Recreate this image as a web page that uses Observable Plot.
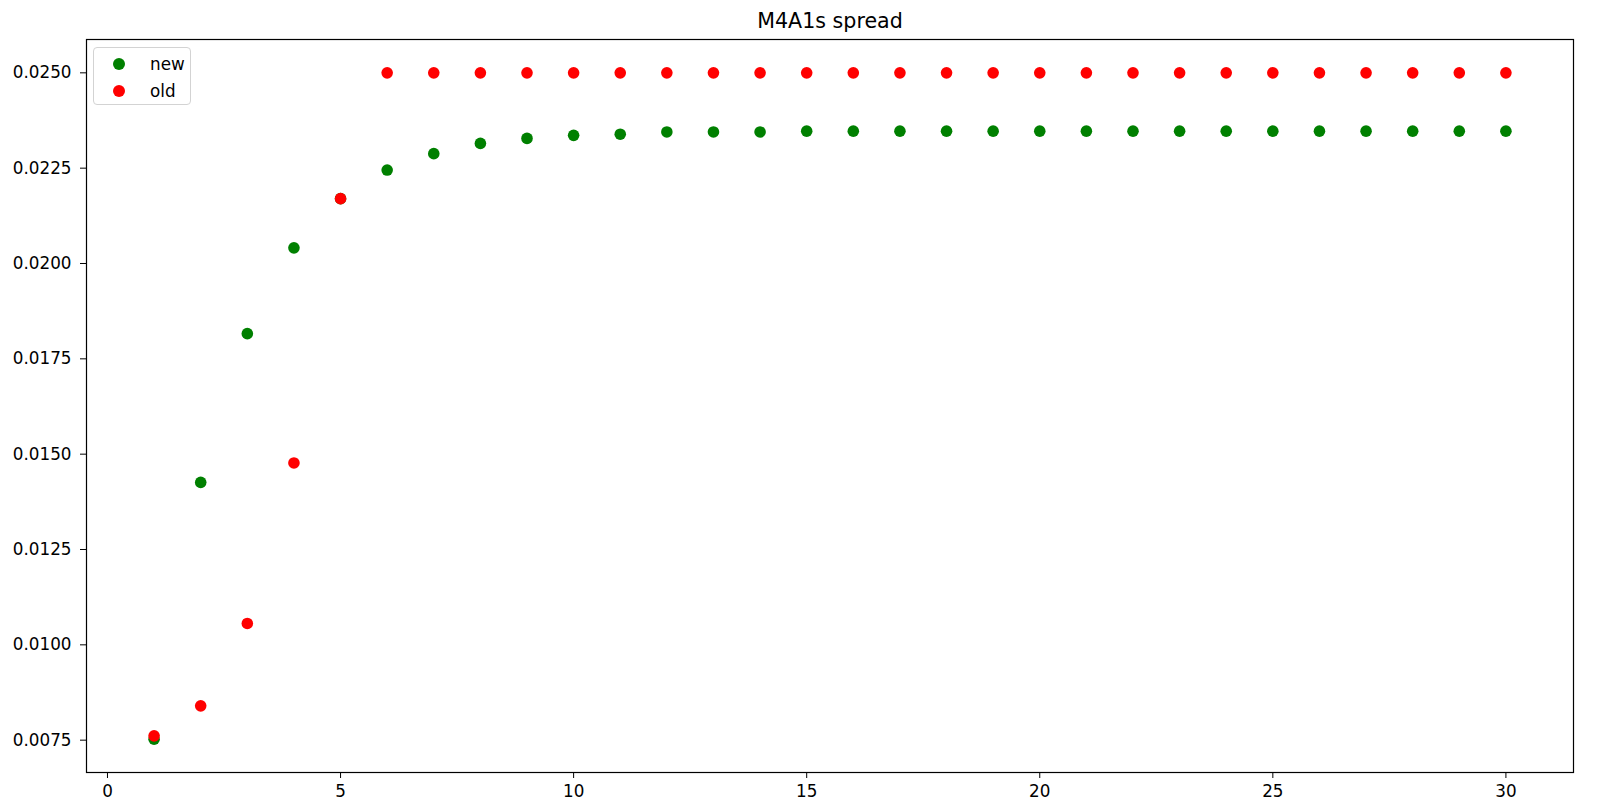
<!DOCTYPE html>
<html>
<head>
<meta charset="utf-8">
<script src="https://cdn.jsdelivr.net/npm/d3@7"></script>
<script src="https://cdn.jsdelivr.net/npm/@observablehq/plot@0.6"></script>
<style>
  html, body { margin: 0; padding: 0; background: white; }
  #wrap { position: relative; width: 1607px; height: 809px; font-family: "DejaVu Sans", sans-serif; }
  #legend { position: absolute; left: 93px; top: 47px; width: 98px; height: 58px; box-sizing: border-box;
    border: 1px solid #d3d3d3; border-radius: 4px; background: rgba(255,255,255,0.8); font-size: 16.8px; }
  .item { position: absolute; left: 0; height: 20px; line-height: 20px; }
  .sw { position: absolute; left: 19px; top: 4px; width: 12px; height: 12px; border-radius: 50%; }
  .lbl { position: absolute; left: 56px; top: 0; white-space: nowrap; color: black; }
</style>
</head>
<body>
<div id="wrap"></div>
<script>
const title = "M4A1s spread";
const steps = [1,2,3,4,5,6,7,8,9,10,11,12,13,14,15,16,17,18,19,20,21,22,23,24,25,26,27,28,29,30];
const newSpread = [0.007526,0.01426,0.01816,0.02041,0.02170,0.02245,0.02288,0.02315,0.02328,0.02336,
                   0.02339,0.02345,0.02345,0.02345,0.02347,0.02347,0.02347,0.02347,0.02347,0.02347,
                   0.02347,0.02347,0.02347,0.02347,0.02347,0.02347,0.02347,0.02347,0.02347,0.02347];
const oldSpread = [0.007613,0.00840,0.01056,0.01477,0.02170,0.0250,0.0250,0.0250,0.0250,0.0250,
                   0.0250,0.0250,0.0250,0.0250,0.0250,0.0250,0.0250,0.0250,0.0250,0.0250,
                   0.0250,0.0250,0.0250,0.0250,0.0250,0.0250,0.0250,0.0250,0.0250,0.0250];
const seriesNames = ["new", "old"];
const seriesColors = ["green", "red"];
const xTicks = [0,5,10,15,20,25,30];
const yTicks = [0.0075,0.0100,0.0125,0.0150,0.0175,0.0200,0.0225,0.0250];

const newRows = steps.map((s,i) => ({step: s, spread: newSpread[i]}));
const oldRows = steps.map((s,i) => ({step: s, spread: oldSpread[i]}));

const chart = Plot.plot({
  width: 1607, height: 809,
  marginLeft: 86, marginRight: 34, marginTop: 39, marginBottom: 37,
  style: {fontFamily: "DejaVu Sans", fontSize: "16.8px", color: "black", background: "white"},
  x: {domain: [-0.45, 31.45], ticks: xTicks, tickFormat: d => String(d), tickSize: 6, tickPadding: 7, label: null},
  y: {domain: [0.006652, 0.025874], ticks: yTicks, tickFormat: d3.format(".4f"), tickSize: 6, tickPadding: 9, label: null},
  marks: [
    Plot.dot(newRows, {x: "step", y: "spread", r: 5.8, fill: seriesColors[0]}),
    Plot.dot(oldRows, {x: "step", y: "spread", r: 5.8, fill: seriesColors[1]}),
    Plot.frame({stroke: "black", strokeWidth: 1.2}),
    Plot.text([title], {frameAnchor: "top", text: d => d, dy: -11.5, lineAnchor: "bottom", fontSize: 20.6, fill: "black"})
  ]
});
const wrap = document.getElementById("wrap");
wrap.appendChild(chart);

const legend = document.createElement("div");
legend.id = "legend";
seriesNames.forEach((name, i) => {
  const item = document.createElement("div");
  item.className = "item";
  item.style.top = (6 + i * 26.7) + "px";
  item.style.width = "100%";
  const sw = document.createElement("div");
  sw.className = "sw";
  sw.style.background = seriesColors[i];
  const lbl = document.createElement("div");
  lbl.className = "lbl";
  lbl.textContent = name;
  item.appendChild(sw); item.appendChild(lbl);
  legend.appendChild(item);
});
wrap.appendChild(legend);
</script>
</body>
</html>
